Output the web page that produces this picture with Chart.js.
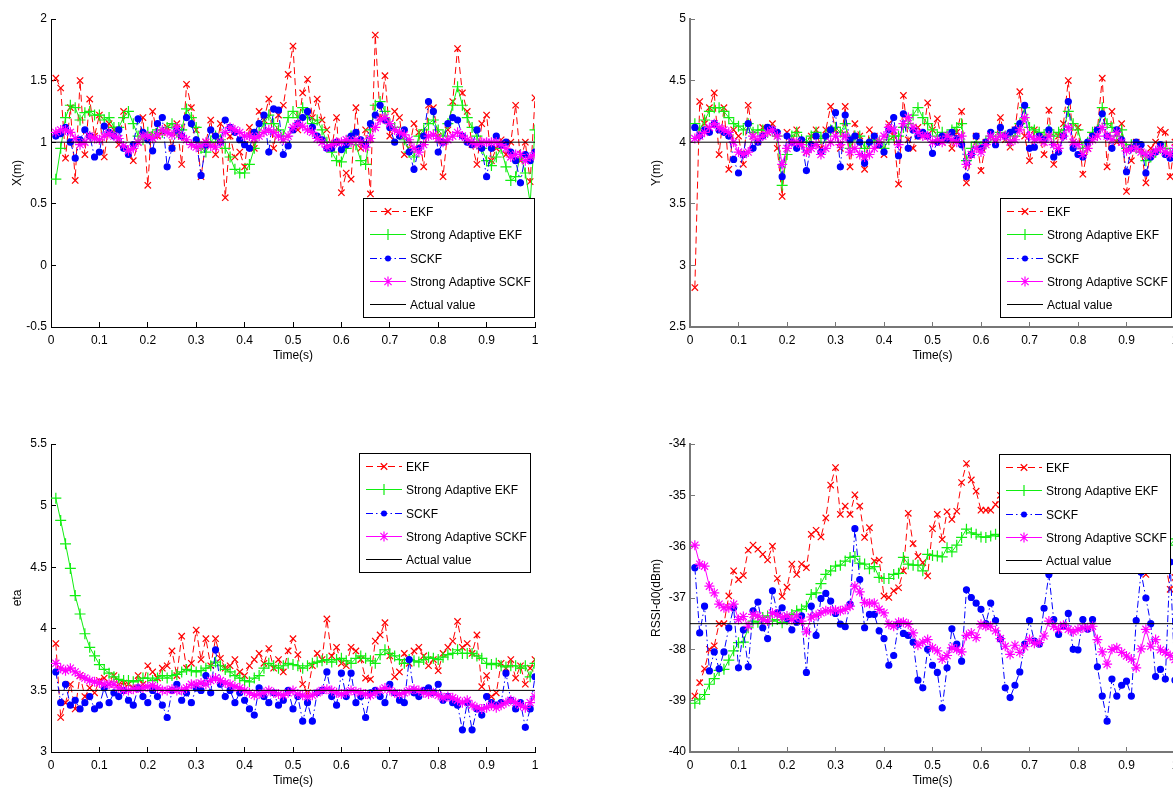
<!DOCTYPE html>
<html>
<head>
<meta charset="utf-8">
<script src="https://cdn.jsdelivr.net/npm/chart.js@4.4.0/dist/chart.umd.min.js"></script>
<style>
    html, body { margin: 0; padding: 0; background: #fff; overflow: hidden; width: 1173px; height: 792px; position: relative; }
    canvas { position: absolute; }
</style>
</head>
<body>
<canvas id="plot-x" width="560" height="370" style="left:0px;top:0px"></canvas>
<canvas id="plot-y" width="561" height="370" style="left:639px;top:0px"></canvas>
<canvas id="plot-eta" width="560" height="370" style="left:0px;top:425px"></canvas>
<canvas id="plot-rssi" width="561" height="370" style="left:639px;top:425px"></canvas>
<script>
// sample instants, 0.01 s apart
const time = Array.from({ length: 100 }, (_, i) => (i + 1) / 100);

const seriesNames = ['EKF', 'Strong Adaptive EKF', 'SCKF', 'Strong Adaptive SCKF', 'Actual value'];

const timeTicks = [0, 0.1, 0.2, 0.3, 0.4, 0.5, 0.6, 0.7, 0.8, 0.9, 1];
const xTicks = [-0.5, 0, 0.5, 1, 1.5, 2];
const yTicks = [2.5, 3, 3.5, 4, 4.5, 5];
const etaTicks = [3, 3.5, 4, 4.5, 5, 5.5];
const rssiTicks = [-40, -39, -38, -37, -36, -35, -34];

const actualX = 1;
const actualY = 4;
const actualEta = 3.5;
const actualRssi = -37.5;

// X (m)
const xEkf = [1.52,1.44,0.87,1.28,0.69,1.50,0.90,1.35,1.05,1.22, 0.88,1.15,1.10,0.98,1.25,0.93,0.85,1.00,1.20,0.65,
    1.25,1.05,1.08,1.12,0.95,1.15,0.82,1.47,1.28,1.10, 0.72,1.00,1.18,0.90,1.15,0.55,1.05,0.88,0.92,0.80,
    1.12,0.95,1.25,1.18,1.35,0.95,1.22,1.30,1.55,1.78, 1.10,1.40,1.51,1.20,1.35,1.18,1.10,0.95,1.20,0.59,
    0.75,0.70,1.28,0.95,1.10,0.58,1.87,1.20,1.54,1.05, 1.25,1.20,0.90,0.95,1.15,1.08,0.80,1.30,1.28,1.05,
    0.72,1.10,1.33,1.76,1.40,1.25,0.98,0.82,1.15,1.22, 0.85,0.95,1.02,0.90,1.00,1.30,0.85,1.00,0.68,1.36];
const xSaEkf = [0.70,0.95,1.20,1.30,1.28,1.18,1.24,1.25,1.22,1.22, 1.18,1.20,1.12,1.12,1.20,1.25,1.15,1.05,1.02,1.08,
    1.05,1.10,1.08,1.12,1.15,1.08,1.10,1.27,1.20,1.12, 0.95,0.92,1.00,1.05,1.02,0.95,0.88,0.78,0.75,0.75,
    0.82,0.95,1.08,1.15,1.22,1.15,1.10,1.05,1.20,1.25, 1.20,1.28,1.20,1.15,1.18,1.10,1.00,0.92,0.85,0.84,
    0.95,1.05,0.98,0.85,0.82,1.10,1.30,1.33,1.25,1.15, 1.12,1.08,1.02,0.92,0.88,1.05,1.10,1.15,1.18,1.10,
    1.05,1.15,1.30,1.45,1.30,1.20,1.12,1.05,0.95,0.85, 0.81,0.88,0.95,0.80,0.69,0.72,0.90,0.75,0.51,1.10];
const xSckf = [1.05,1.07,1.12,1.00,0.87,1.02,1.10,1.05,0.88,0.92, 1.13,1.08,1.05,1.10,0.95,0.90,0.98,1.19,1.08,1.02,
    0.93,1.15,1.20,0.80,0.95,1.10,1.05,1.20,1.15,1.02, 0.73,0.98,1.10,1.05,1.00,1.18,1.12,1.08,1.02,0.98,
    0.95,1.08,1.15,1.22,0.92,1.27,1.26,0.90,0.97,1.10, 1.15,1.20,1.25,1.12,1.05,1.02,0.95,0.95,1.00,0.94,
    0.98,1.05,1.08,1.02,0.98,1.15,1.22,1.30,1.18,1.12, 1.00,1.05,1.10,0.92,0.78,0.95,1.05,1.33,1.25,0.92,
    1.00,1.15,1.20,1.18,1.05,1.00,0.98,1.10,0.95,0.72, 0.95,1.05,0.98,1.00,0.92,0.85,0.67,0.90,0.85,0.92];
const xSaSckf = [1.08,1.10,1.10,1.08,1.03,0.98,1.00,1.05,1.03,1.02, 1.05,1.07,1.05,1.03,0.97,0.93,0.95,1.00,1.05,1.05,
    1.03,1.06,1.10,1.08,1.06,1.12,1.05,1.02,0.98,0.96, 0.97,1.00,0.97,0.96,1.00,1.08,1.12,1.10,1.08,1.05,
    1.05,1.03,1.05,1.08,1.10,1.08,1.05,1.02,1.05,1.12, 1.15,1.13,1.10,1.08,1.03,1.00,0.96,0.98,1.00,1.00,
    1.02,1.00,1.02,1.00,0.96,1.03,1.12,1.18,1.20,1.15, 1.10,1.08,1.06,1.02,0.95,0.92,0.98,1.05,1.06,1.03,
    1.00,1.02,1.05,1.08,1.05,1.02,1.00,0.98,1.00,1.00, 1.00,1.00,0.98,0.95,0.88,0.90,0.90,0.85,0.88,0.90];

// Y (m)
const yEkf = [2.82,4.33,4.15,4.28,4.40,3.90,4.28,3.78,4.10,4.05, 3.82,4.30,4.05,4.00,4.12,4.08,4.15,3.95,3.56,4.08,
    4.00,4.10,3.98,3.92,4.05,4.10,3.95,4.10,4.29,4.10, 3.95,4.29,3.80,4.15,4.05,3.78,4.10,4.05,3.98,3.90,
    4.15,4.05,3.66,4.38,4.02,3.95,4.12,4.05,4.32,4.10, 4.19,4.00,4.05,3.95,4.08,4.25,3.67,3.90,4.05,3.77,
    4.00,4.05,4.00,4.20,4.02,3.96,4.10,4.41,4.05,3.85, 4.10,4.05,3.90,4.26,3.82,4.05,4.15,4.50,4.00,4.12,
    3.74,3.95,4.05,4.10,4.52,3.80,4.25,4.00,4.15,3.60, 3.85,4.00,3.95,3.67,3.95,4.00,4.10,4.08,3.72,4.00];
const ySaEkf = [4.15,4.10,4.18,4.25,4.28,4.28,4.25,4.20,4.15,4.13, 4.10,4.15,4.08,4.10,4.10,4.08,4.10,4.05,3.65,3.90,
    4.05,4.08,4.02,4.00,4.05,4.08,4.03,4.05,4.10,4.12, 4.08,4.15,3.95,4.05,4.05,3.95,4.00,4.02,4.00,3.95,
    4.02,4.05,4.05,4.12,4.15,4.22,4.28,4.20,4.15,4.10, 4.05,4.08,4.05,4.10,4.12,4.15,3.85,3.95,4.00,3.95,
    4.00,4.05,4.02,4.08,4.05,4.00,4.05,4.15,4.28,4.12, 4.10,4.08,4.05,4.10,4.05,4.08,4.10,4.25,4.15,4.10,
    3.95,4.00,4.08,4.10,4.28,4.15,4.12,4.05,4.10,3.95, 3.98,3.95,3.92,3.85,3.88,3.92,3.95,3.95,3.90,3.95];
const ySckf = [4.12,4.05,4.10,4.08,4.15,4.10,4.08,4.05,3.86,3.75, 3.90,4.15,3.95,4.00,4.05,4.12,4.10,4.08,3.72,4.05,
    4.00,3.95,4.02,3.77,3.98,4.05,3.92,4.05,4.10,4.24, 3.80,4.22,4.02,4.05,4.00,3.83,4.00,4.05,3.98,3.92,
    4.10,4.20,3.89,4.23,3.95,4.10,4.05,4.08,4.05,3.91, 4.00,4.05,4.02,4.08,4.03,3.98,3.72,3.90,4.05,3.95,
    4.00,4.08,3.98,4.12,4.05,4.08,4.10,4.15,4.30,3.95, 3.96,4.05,4.02,4.10,3.88,3.92,4.05,4.33,3.95,3.90,
    3.88,4.00,4.05,4.10,4.23,4.05,3.95,4.10,4.02,3.76, 3.95,4.00,3.98,3.75,3.88,3.92,3.98,3.90,3.87,3.92];
const ySaSckf = [4.03,4.05,4.08,4.12,4.15,4.12,4.10,4.08,4.00,3.92, 3.90,3.92,4.05,4.02,4.05,4.08,4.10,4.05,3.82,3.95,
    4.00,4.00,3.98,3.92,3.95,3.98,3.90,3.95,4.00,4.05, 3.98,4.05,3.92,3.95,3.90,3.88,3.90,3.95,4.00,4.05,
    4.12,4.10,3.98,4.15,4.20,4.12,4.08,4.05,4.05,4.00, 4.02,4.00,4.05,4.02,4.00,4.05,3.82,3.90,3.95,3.92,
    3.98,4.05,4.02,4.05,4.05,4.00,4.02,4.10,4.20,4.05, 4.02,4.03,4.00,4.05,3.98,3.95,4.05,4.12,4.00,3.98,
    3.90,3.95,4.02,4.05,4.12,4.05,4.02,4.08,4.00,3.93, 3.95,3.95,3.92,3.90,3.90,3.93,3.95,3.92,3.90,3.95];

// eta
const etaEkf = [3.88,3.28,3.40,3.55,3.35,3.62,3.45,3.52,3.48,3.58, 3.60,3.55,3.62,3.55,3.56,3.55,3.52,3.62,3.55,3.70,
    3.65,3.60,3.68,3.70,3.82,3.62,3.94,3.68,3.72,3.99, 3.75,3.92,3.70,3.92,3.76,3.68,3.70,3.75,3.65,3.62,
    3.70,3.75,3.80,3.72,3.84,3.68,3.75,3.65,3.82,3.92, 3.79,3.55,3.48,3.70,3.80,3.75,4.08,3.78,3.85,3.72,
    3.70,3.85,3.82,3.75,3.60,3.59,3.90,3.95,4.05,3.78, 3.61,3.65,3.80,3.72,3.82,3.85,3.78,3.70,3.75,3.66,
    3.80,3.85,3.90,4.06,3.85,3.88,3.80,3.95,3.53,3.62, 3.45,3.48,3.72,3.68,3.75,3.60,3.70,3.55,3.68,3.75];
const etaSaEkf = [5.06,4.88,4.69,4.49,4.27,4.12,3.96,3.85,3.78,3.71, 3.67,3.64,3.61,3.59,3.58,3.58,3.57,3.58,3.60,3.60,
    3.58,3.60,3.62,3.60,3.62,3.63,3.65,3.67,3.66,3.65, 3.66,3.68,3.70,3.73,3.70,3.67,3.65,3.62,3.60,3.58,
    3.57,3.60,3.62,3.68,3.72,3.70,3.68,3.70,3.72,3.71, 3.70,3.68,3.70,3.72,3.73,3.74,3.75,3.73,3.75,3.76,
    3.74,3.72,3.76,3.78,3.76,3.74,3.72,3.79,3.83,3.80, 3.78,3.75,3.72,3.75,3.74,3.73,3.75,3.77,3.76,3.75,
    3.77,3.79,3.80,3.83,3.80,3.80,3.80,3.78,3.76,3.72, 3.71,3.72,3.70,3.69,3.70,3.70,3.68,3.70,3.61,3.72];
const etaSckf = [3.65,3.40,3.55,3.38,3.42,3.35,3.40,3.45,3.35,3.38, 3.52,3.40,3.48,3.45,3.50,3.42,3.38,3.52,3.45,3.40,
    3.50,3.45,3.38,3.28,3.50,3.55,3.42,3.48,3.40,3.52, 3.50,3.62,3.48,3.83,3.55,3.45,3.50,3.40,3.48,3.42,
    3.35,3.30,3.52,3.45,3.40,3.48,3.38,3.42,3.50,3.35, 3.45,3.25,3.40,3.25,3.48,3.50,3.65,3.45,3.38,3.64,
    3.45,3.64,3.40,3.45,3.28,3.48,3.50,3.45,3.40,3.55, 3.48,3.42,3.40,3.75,3.48,3.45,3.50,3.52,3.48,3.55,
    3.42,3.45,3.40,3.38,3.18,3.40,3.18,3.35,3.30,3.45, 3.40,3.38,3.40,3.64,3.42,3.35,3.40,3.20,3.35,3.61];
const etaSaSckf = [3.72,3.68,3.66,3.68,3.65,3.62,3.60,3.58,3.57,3.56, 3.55,3.55,3.55,3.52,3.50,3.50,3.51,3.52,3.52,3.53,
    3.54,3.52,3.50,3.50,3.51,3.50,3.50,3.52,3.55,3.55, 3.56,3.55,3.58,3.60,3.58,3.56,3.55,3.53,3.52,3.50,
    3.48,3.46,3.47,3.48,3.50,3.48,3.47,3.46,3.48,3.50, 3.47,3.46,3.45,3.46,3.48,3.50,3.51,3.50,3.48,3.47,
    3.48,3.50,3.49,3.48,3.47,3.46,3.48,3.50,3.52,3.50, 3.48,3.47,3.48,3.50,3.51,3.50,3.48,3.47,3.48,3.46,
    3.44,3.45,3.44,3.42,3.40,3.42,3.38,3.36,3.35,3.36, 3.38,3.36,3.38,3.40,3.42,3.40,3.38,3.36,3.40,3.45];

// RSSI-d0 (dBm)
const rssiEkf = [-38.91,-38.65,-38.38,-38.00,-37.93,-37.50,-37.50,-36.96,-36.47,-36.64, -36.56,-36.07,-35.97,-36.05,-36.15,-36.26,-35.99,-36.62,-36.97,-36.79,
    -36.34,-36.54,-36.34,-36.41,-35.76,-35.68,-35.81,-35.44,-34.80,-34.46, -35.37,-35.21,-35.37,-34.99,-35.21,-35.82,-35.63,-36.28,-36.26,-36.96,
    -36.99,-36.86,-36.80,-36.47,-35.35,-35.94,-36.19,-36.31,-36.57,-35.65, -35.37,-35.86,-35.32,-35.47,-35.31,-34.75,-34.38,-34.70,-34.92,-35.29,
    -35.29,-35.29,-35.18,-35.00,-34.90,-35.10,-35.30,-35.60,-35.40,-35.80, -35.50,-35.70,-36.00,-35.80,-35.60,-35.90,-36.20,-36.00,-35.70,-35.50,
    -35.30,-35.60,-35.20,-34.90,-35.10,-35.40,-35.20,-35.60,-35.80,-36.10, -35.90,-36.20,-35.80,-36.54,-36.30,-36.10,-35.90,-36.30,-36.83,-36.60];
const rssiSaEkf = [-39.05,-38.97,-38.88,-38.68,-38.57,-38.41,-38.39,-38.21,-38.03,-37.87, -37.86,-37.58,-37.45,-37.47,-37.38,-37.35,-37.45,-37.42,-37.48,-37.42,
    -37.32,-37.25,-37.22,-37.16,-36.93,-36.90,-36.72,-36.54,-36.47,-36.38, -36.36,-36.28,-36.21,-36.19,-36.32,-36.34,-36.43,-36.39,-36.60,-36.62,
    -36.62,-36.54,-36.52,-36.21,-36.34,-36.36,-36.36,-36.47,-36.15,-36.17, -36.18,-36.20,-36.02,-36.10,-35.97,-35.82,-35.66,-35.73,-35.76,-35.81,
    -35.82,-35.79,-35.76,-35.80,-35.75,-35.70,-35.72,-35.80,-35.78,-35.72, -35.75,-35.80,-35.85,-35.80,-35.75,-35.70,-35.72,-35.65,-35.60,-35.62,
    -35.58,-35.55,-35.60,-35.50,-35.45,-35.50,-35.55,-35.60,-35.62,-35.70, -35.75,-35.72,-35.80,-35.85,-35.82,-35.90,-35.95,-35.92,-35.97,-35.85];
const rssiSckf = [-36.41,-37.68,-37.16,-38.42,-38.05,-38.38,-38.05,-37.58,-37.19,-38.36, -37.62,-38.34,-37.25,-37.08,-37.58,-37.79,-36.86,-37.29,-37.19,-37.40,
    -37.62,-37.47,-37.35,-38.45,-37.16,-37.73,-37.01,-36.91,-37.06,-37.30, -37.51,-37.56,-37.12,-35.65,-36.64,-37.58,-37.32,-37.32,-37.64,-37.79,
    -38.31,-38.12,-37.51,-37.69,-37.73,-37.86,-38.60,-38.75,-38.00,-38.31, -38.45,-39.14,-38.36,-37.60,-37.90,-38.23,-36.84,-36.99,-37.10,-37.22,
    -37.50,-37.10,-37.44,-37.80,-38.75,-38.94,-38.70,-38.44,-37.90,-37.44, -37.84,-37.90,-37.20,-36.54,-37.42,-37.71,-37.55,-37.30,-38.00,-38.01,
    -37.42,-37.61,-37.42,-38.34,-38.91,-39.40,-38.58,-38.91,-38.70,-38.62, -38.91,-37.44,-36.50,-37.00,-37.50,-38.53,-38.39,-38.58,-36.30,-38.60];
const rssiSaSckf = [-35.97,-36.34,-36.38,-36.77,-36.90,-37.12,-37.19,-37.19,-37.12,-37.42, -37.36,-37.55,-37.32,-37.35,-37.42,-37.45,-37.29,-37.32,-37.38,-37.35,
    -37.42,-37.35,-37.45,-37.66,-37.37,-37.34,-37.29,-37.25,-37.25,-37.24, -37.25,-37.22,-37.16,-36.77,-36.88,-37.09,-37.10,-37.10,-37.22,-37.29,
    -37.51,-37.55,-37.47,-37.47,-37.51,-37.68,-37.92,-37.86,-37.81,-37.97, -38.03,-38.19,-38.12,-37.97,-38.00,-38.05,-37.73,-37.68,-37.77,-37.51,
    -37.55,-37.55,-37.64,-37.79,-37.94,-38.10,-37.92,-38.06,-37.95,-37.81, -37.88,-37.87,-37.74,-37.45,-37.55,-37.61,-37.53,-37.61,-37.66,-37.61,
    -37.58,-37.58,-37.55,-37.81,-38.05,-38.29,-38.00,-37.97,-38.06,-38.13, -38.19,-38.36,-37.99,-37.61,-37.94,-37.81,-38.01,-38.06,-38.12,-38.20];

const FONT = "'Liberation Sans', Arial, Helvetica, sans-serif";

// series look, same order as seriesNames
const seriesStyle = [
    { color: '#ff0000', dash: [7, 4], marker: 'crossRot', size: 4.5 },
    { color: '#11ee11', dash: [], marker: 'cross', size: 5.5 },
    { color: '#0000ff', dash: [7, 3, 1.5, 3], marker: 'circle', size: 3 },
    { color: '#ff00ff', dash: [], marker: 'star', size: 5 },
    { color: '#000000', dash: [], marker: null, size: 0 }
];

function drawMarker(ctx, kind, x, y, r, color) {
    ctx.save();
    ctx.setLineDash([]);
    ctx.strokeStyle = color;
    ctx.fillStyle = color;
    ctx.lineWidth = 1.2;
    ctx.beginPath();
    if (kind === 'circle') {
        ctx.arc(x, y, r, 0, Math.PI * 2);
        ctx.fill();
    } else {
        if (kind === 'cross' || kind === 'star') {
            ctx.moveTo(x - r, y); ctx.lineTo(x + r, y);
            ctx.moveTo(x, y - r); ctx.lineTo(x, y + r);
        }
        if (kind === 'crossRot' || kind === 'star') {
            const d = r * 0.72;
            ctx.moveTo(x - d, y - d); ctx.lineTo(x + d, y + d);
            ctx.moveTo(x - d, y + d); ctx.lineTo(x + d, y - d);
        }
        ctx.stroke();
    }
    ctx.restore();
}

const boxLegend = {
    id: 'boxLegend',
    afterDraw(chart, args, opts) {
        const ctx = chart.ctx;
        const x = opts.left, y = opts.top, w = 171, h = 119;
        ctx.save();
        ctx.fillStyle = '#fff';
        ctx.fillRect(x, y, w, h);
        ctx.strokeStyle = '#000';
        ctx.lineWidth = 1;
        ctx.strokeRect(x + 0.5, y + 0.5, w, h);
        ctx.font = '12px ' + FONT;
        ctx.textBaseline = 'middle';
        seriesNames.forEach((name, k) => {
            const s = seriesStyle[k];
            const cy = Math.round(y + 13 + k * 23.3) + 0.5;
            ctx.strokeStyle = s.color;
            ctx.setLineDash(s.dash);
            ctx.beginPath();
            ctx.moveTo(x + 7, cy);
            ctx.lineTo(x + 43, cy);
            ctx.stroke();
            ctx.setLineDash([]);
            if (s.marker) drawMarker(ctx, s.marker, x + 25, cy, s.size, s.color);
            ctx.fillStyle = '#000';
            ctx.fillText(name, x + 47, cy + 1);
        });
        ctx.restore();
    }
};

function makePlot(id, p) {
    const ctx = document.getElementById(id).getContext('2d');
    const values = [p.ekf, p.saEkf, p.sckf, p.saSckf];
    const datasets = values.map((vals, k) => {
        const s = seriesStyle[k];
        return {
            label: seriesNames[k],
            data: vals.map((v, i) => ({ x: time[i], y: v })),
            borderColor: s.color,
            backgroundColor: s.color,
            borderWidth: 1,
            borderDash: s.dash,
            pointStyle: s.marker,
            pointRadius: s.size,
            pointBorderColor: s.color,
            pointBackgroundColor: s.color,
            pointBorderWidth: 1.2,
            tension: 0,
            fill: false
        };
    });
    datasets.push({
        label: seriesNames[4],
        data: [{ x: 0, y: p.actual }, { x: 1, y: p.actual }],
        borderColor: '#000',
        borderWidth: 1,
        pointRadius: 0,
        fill: false
    });
    // MATLAB draws later lines on top; Chart.js draws dataset 0 last
    datasets.reverse();

    const axisColor = p.axisColor || '#000';
    return new Chart(ctx, {
        type: 'line',
        data: { datasets: datasets },
        plugins: [boxLegend],
        options: {
            responsive: false,
            animation: false,
            devicePixelRatio: 1,
            layout: { padding: { left: 0, right: p.padRight, top: 19, bottom: 0 } },
            plugins: {
                legend: { display: false },
                tooltip: { enabled: false },
                boxLegend: p.legend
            },
            scales: {
                x: {
                    type: 'linear',
                    min: 0,
                    max: 1,
                    afterBuildTicks: s => { s.ticks = timeTicks.map(v => ({ value: v })); },
                    afterFit: s => { s.height = 43; },
                    border: { display: true, color: axisColor, width: p.axisWidth || 1 },
                    grid: { drawOnChartArea: false, drawTicks: true, tickLength: -5, color: axisColor },
                    ticks: {
                        autoSkip: false, maxRotation: 0, padding: 11, color: '#000',
                        font: { family: FONT, size: 12 },
                        callback: v => String(v)
                    },
                    title: {
                        display: true, text: 'Time(s)', color: '#000',
                        font: { family: FONT, size: 12 },
                        padding: { top: 0, bottom: 7 }
                    }
                },
                y: {
                    type: 'linear',
                    min: p.ticks[0],
                    max: p.ticks[p.ticks.length - 1],
                    afterBuildTicks: s => { s.ticks = p.ticks.map(v => ({ value: v })); },
                    afterFit: s => { s.width = p.yAxisWidth; },
                    border: { display: true, color: axisColor, width: p.axisWidth || 1 },
                    grid: { drawOnChartArea: false, drawTicks: true, tickLength: -5, color: axisColor },
                    ticks: {
                        autoSkip: false, padding: 9, color: '#000',
                        font: { family: FONT, size: 12 },
                        callback: v => String(v)
                    },
                    title: {
                        display: true, text: p.yTitle, color: '#000',
                        font: { family: FONT, size: 12 },
                        padding: { top: 10, bottom: 0 }
                    }
                }
            }
        }
    });
}

makePlot('plot-x', {
    ekf: xEkf, saEkf: xSaEkf, sckf: xSckf, saSckf: xSaSckf, actual: actualX,
    ticks: xTicks, yTitle: 'X(m)', yAxisWidth: 51, padRight: 25,
    legend: { left: 363, top: 198 }
});
makePlot('plot-y', {
    ekf: yEkf, saEkf: ySaEkf, sckf: ySckf, saSckf: ySaSckf, actual: actualY,
    ticks: yTicks, yTitle: 'Y(m)', yAxisWidth: 51, padRight: 25,
    axisColor: '#777', axisWidth: 2,
    legend: { left: 361, top: 198 }
});
makePlot('plot-eta', {
    ekf: etaEkf, saEkf: etaSaEkf, sckf: etaSckf, saSckf: etaSaSckf, actual: actualEta,
    ticks: etaTicks, yTitle: 'eta', yAxisWidth: 51, padRight: 25,
    legend: { left: 359, top: 28 }
});
makePlot('plot-rssi', {
    ekf: rssiEkf, saEkf: rssiSaEkf, sckf: rssiSckf, saSckf: rssiSaSckf, actual: actualRssi,
    ticks: rssiTicks, yTitle: 'RSSI-d0(dBm)', yAxisWidth: 51, padRight: 25,
    axisColor: '#777', axisWidth: 2,
    legend: { left: 360, top: 29 }
});
</script>
</body>
</html>
